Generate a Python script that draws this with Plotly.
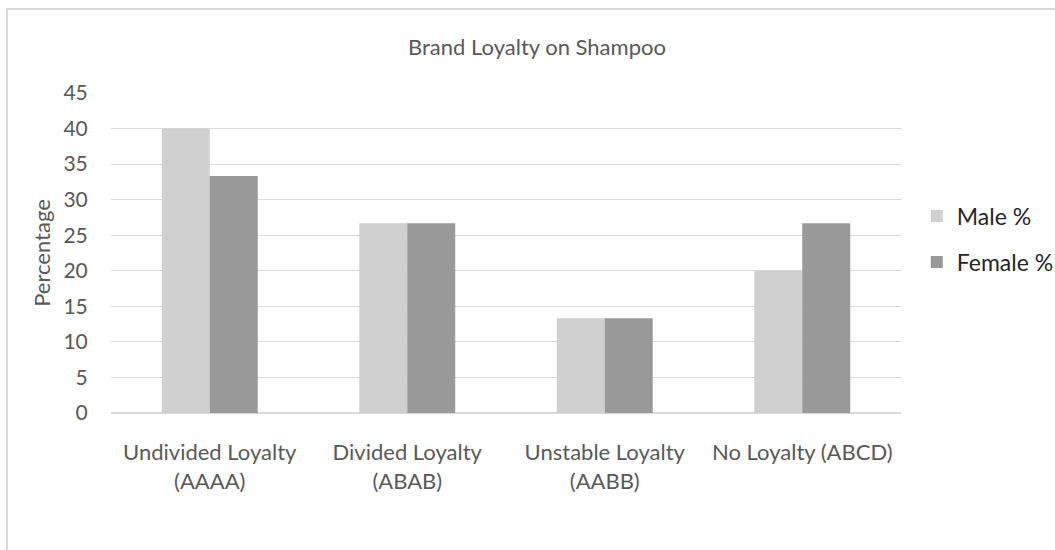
import plotly.graph_objects as go

# Brand loyalty on shampoo, by respondent gender (percent)
categories = [
    "Undivided Loyalty<br>(AAAA)",
    "Divided Loyalty<br>(ABAB)",
    "Unstable Loyalty<br>(AABB)",
    "No Loyalty (ABCD)",
]
male_pct = [40.0, 26.67, 13.33, 20.0]
female_pct = [33.33, 26.67, 13.33, 26.67]
y_ticks = [0, 5, 10, 15, 20, 25, 30, 35, 40, 45]

FONT = "Lato, Calibri, Carlito, sans-serif"
GRID = "#D9D9D9"
TEXT = "#595959"

fig = go.Figure()
fig.add_trace(go.Bar(name="Male %", x=categories, y=male_pct, legend="legend",
                     marker=dict(color="#D0D0D0", line=dict(width=0))))
fig.add_trace(go.Bar(name="Female %", x=categories, y=female_pct, legend="legend2",
                     marker=dict(color="#999999", line=dict(width=0))))

# chart-area border (left and top edges fall inside the page)
fig.add_shape(type="rect", xref="paper", yref="paper",
              x0=-0.1316, x1=1.3, y0=-0.7, y1=1.2625,
              line=dict(color=GRID, width=2), fillcolor="rgba(0,0,0,0)",
              layer="below")

legend_style = dict(x=1.02, xanchor="left", yanchor="middle",
                    font=dict(family=FONT, size=23, color="#262626"),
                    itemwidth=30, bgcolor="rgba(0,0,0,0)")

fig.update_layout(
    width=1055, height=550,
    margin=dict(l=111, r=154, t=93, b=137, autoexpand=False),
    paper_bgcolor="white", plot_bgcolor="white",
    barmode="group", bargap=0.514, bargroupgap=0,
    font=dict(family=FONT, color=TEXT),
    title=dict(text="Brand Loyalty on Shampoo", x=0.509, xref="container",
               y=1 - 47 / 550, yref="container", xanchor="center",
               yanchor="middle", font=dict(family=FONT, size=22, color=TEXT)),
    legend=dict(y=(413 - 216) / 320, **legend_style),
    legend2=dict(y=(413 - 262) / 320, **legend_style),
    showlegend=True,
)
fig.update_xaxes(showgrid=False, showline=False,
                 ticks="outside", ticklen=20, tickcolor="rgba(0,0,0,0)",
                 tickfont=dict(family=FONT, size=22, color=TEXT),
                 fixedrange=True)
fig.update_yaxes(range=[0, 45], tickvals=y_ticks, showgrid=True,
                 gridcolor=GRID, gridwidth=1, zeroline=True,
                 zerolinecolor=GRID, zerolinewidth=1.5,
                 ticks="outside", ticklen=18, tickcolor="rgba(0,0,0,0)",
                 tickfont=dict(family=FONT, size=21, color=TEXT),
                 title=dict(text="Percentage", standoff=6,
                            font=dict(family=FONT, size=22, color=TEXT)),
                 fixedrange=True)

fig.write_html("out.html")
